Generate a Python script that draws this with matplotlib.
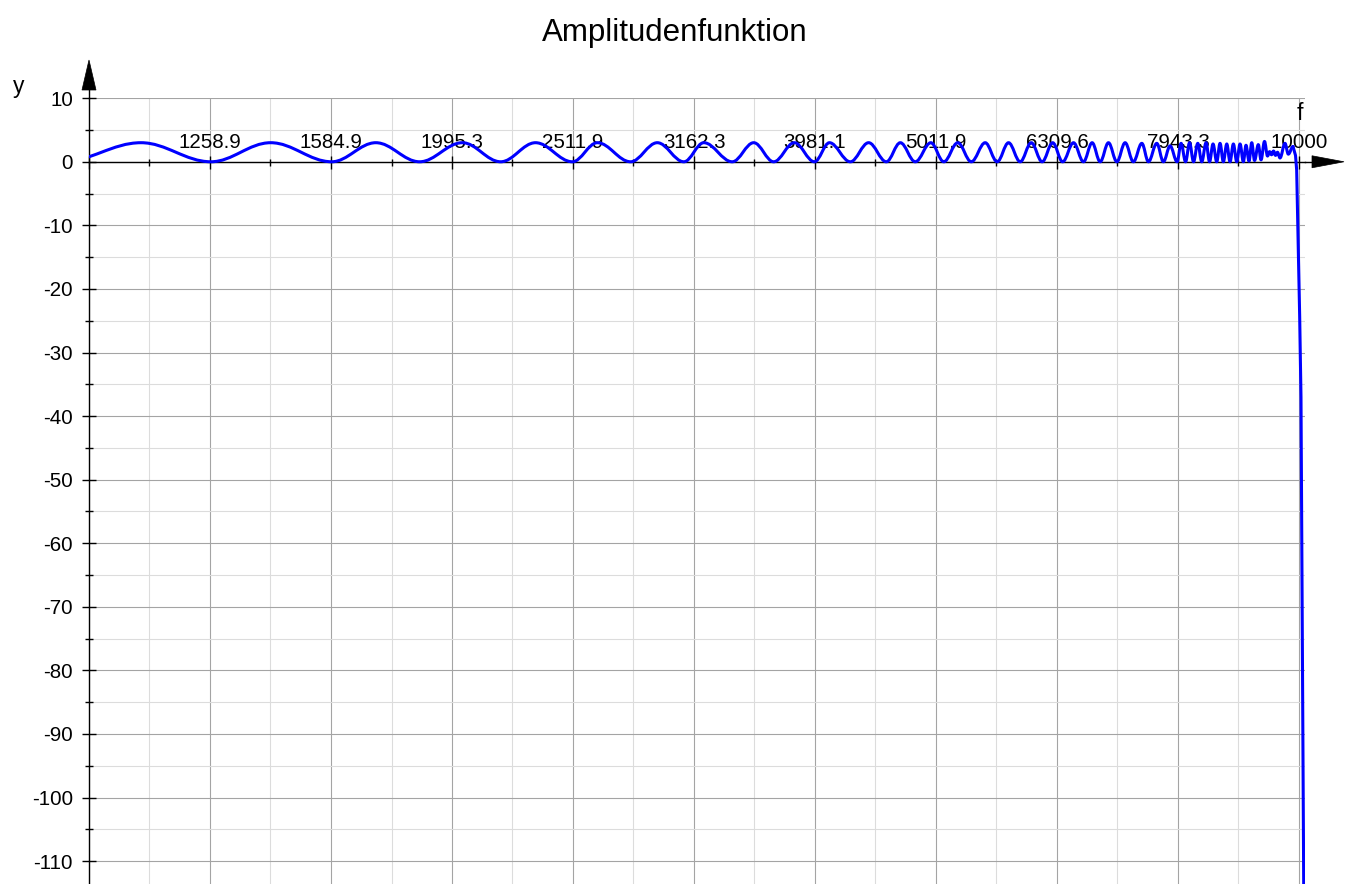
import numpy as np
import matplotlib
matplotlib.use("Agg")
import matplotlib.pyplot as plt
from matplotlib.path import Path
from matplotlib.patches import PathPatch, Polygon
from matplotlib.lines import Line2D
from matplotlib.ticker import FixedLocator, FixedFormatter, NullFormatter

plt.rcParams['font.family'] = ['Liberation Sans', 'DejaVu Sans']

# ---------------- data ----------------
title = "Amplitudenfunktion"
x_label = "f"
y_label = "y"

# extrema of the oscillating amplitude curve (frequency, value)
curve_f = [950, 1104, 1261, 1413, 1587, 1726, 1876, 2035, 2189, 2339,
           2509, 2631, 2803, 2949, 3102, 3222, 3401, 3543, 3680, 3828,
           3977, 4092, 4258, 4409, 4560, 4683, 4818, 4963, 5087, 5224,
           5360, 5504, 5631, 5754, 5883, 6008, 6134, 6258, 6378, 6511,
           6636, 6746, 6850, 6959, 7071, 7183, 7297, 7415, 7509, 7629,
           7726, 7825, 7930, 7990, 8059, 8120, 8182, 8248, 8311, 8379,
           8435, 8491, 8551, 8605, 8659, 8716, 8770, 8826, 8883, 8939,
           8995, 9041, 9093, 9140, 9189, 9255, 9303, 9365, 9419, 9455,
           9491, 9527, 9563, 9599, 9645, 9737, 9799, 9887]
curve_y = [0, 3.0, 0, 3.0, 0, 3.0, 0, 3.0, 0, 3.0,
           0, 3.0, 0, 3.0, 0, 3.0, 0, 3.0, 0, 3.0,
           0, 3.0, 0, 3.0, 0, 3.0, 0, 3.0, 0, 3.0,
           0, 3.0, 0, 3.0, 0, 3.0, 0, 3.0, 0, 3.0,
           0, 3.0, 0, 3.0, 0, 3.0, 0, 2.9, 0, 2.9,
           0, 2.5, 0, 2.9, 0, 3.0, 0, 2.9, 0, 3.0,
           0, 2.8, 0, 2.9, 0, 2.8, 0, 2.8, 0, 2.8,
           0, 2.6, 0.1, 3.0, 0.2, 2.7, 0.3, 3.2, 0.9, 1.6,
           1.1, 1.7, 1.0, 1.5, 0.6, 2.9, 1.2, 2.4]

# steep cut-off near 10 kHz
drop_f = [9887, 9934, 9956, 9987, 10013, 10038, 10090, 10105]
drop_y = [2.4, 1.0, -1.3, -13.9, -24.3, -37.0, -113.6, -125.0]

xtick_vals = [1000, 1258.9, 1584.9, 1995.3, 2511.9, 3162.3, 3981.1,
              5011.9, 6309.6, 7943.3, 10000]
xtick_labels = ["", "1258.9", "1584.9", "1995.3", "2511.9", "3162.3",
                "3981.1", "5011.9", "6309.6", "7943.3", "10000"]
xminor_vals = [1122.0, 1412.5, 1778.3, 2238.7, 2818.4, 3548.1, 4466.8,
               5623.4, 7079.5, 8912.5]
ytick_vals = [10, 0, -10, -20, -30, -40, -50, -60, -70, -80, -90, -100, -110]
ytick_labels = ["10", "0", "-10", "-20", "-30", "-40", "-50", "-60", "-70",
                "-80", "-90", "-100", "-110"]
yminor_vals = [5, -5, -15, -25, -35, -45, -55, -65, -75, -85, -95, -105]

x_min, x_max = 1000, 10115
y_min, y_max = -113.6, 10

# ---------------- figure ----------------
W, H = 1349, 884
fig = plt.figure(figsize=(W / 100, H / 100), dpi=100)
ax_left, ax_right, ax_top = 89, 1305, 98.2
ax = fig.add_axes([ax_left / W, 0, (ax_right - ax_left) / W, (H - ax_top) / H])
ax.set_xscale('log')
ax.set_xlim(x_min, x_max)
ax.set_ylim(y_min, y_max)

ax.xaxis.set_major_locator(FixedLocator(xtick_vals))
ax.xaxis.set_major_formatter(FixedFormatter(xtick_labels))
ax.xaxis.set_minor_locator(FixedLocator(xminor_vals))
ax.xaxis.set_minor_formatter(NullFormatter())
ax.yaxis.set_major_locator(FixedLocator(ytick_vals))
ax.yaxis.set_major_formatter(FixedFormatter(ytick_labels))
ax.yaxis.set_minor_locator(FixedLocator(yminor_vals))
ax.yaxis.set_minor_formatter(NullFormatter())

ax.grid(True, which='major', color='#a4a4a4', linewidth=0.8)
ax.grid(True, which='minor', color='#dcdcdc', linewidth=0.8)
ax.set_axisbelow(True)

for s in ['bottom', 'right']:
    ax.spines[s].set_visible(False)
ax.spines['top'].set_position(('data', 0))
ax.spines['top'].set_color('black')
ax.spines['top'].set_linewidth(1.0)
ax.spines['left'].set_color('black')
ax.spines['left'].set_linewidth(1.0)

ax.xaxis.set_ticks_position('top')
ax.tick_params(axis='x', which='major', direction='inout', length=13 * 0.72,
               width=1, pad=2.6, labelsize=14.8, top=True, bottom=False,
               labeltop=True, labelbottom=False)
ax.tick_params(axis='x', which='minor', direction='inout', length=7 * 0.72,
               width=1, top=True, bottom=False)
ax.tick_params(axis='y', which='major', direction='inout', length=14 * 0.72,
               width=1, pad=6.5, labelsize=14.8)
ax.tick_params(axis='y', which='minor', direction='inout', length=8 * 0.72,
               width=1)

# oscillating curve drawn as smooth segments between extrema
k = 0.364
verts = [(curve_f[0], curve_y[0])]
codes = [Path.MOVETO]
for i in range(len(curve_f) - 1):
    la, lb = np.log10(curve_f[i]), np.log10(curve_f[i + 1])
    c1 = (10 ** (la + k * (lb - la)), curve_y[i])
    c2 = (10 ** (lb - k * (lb - la)), curve_y[i + 1])
    verts += [c1, c2, (curve_f[i + 1], curve_y[i + 1])]
    codes += [Path.CURVE4] * 3
patch = PathPatch(Path(verts, codes), fill=False, edgecolor='#0000ff',
                  linewidth=2.2, joinstyle='round', capstyle='round', zorder=3)
ax.add_patch(patch)
ax.plot(drop_f, drop_y, color='#0000ff', linewidth=2.2,
        solid_joinstyle='round', solid_capstyle='round', zorder=3)

# ---------------- arrows and labels (figure pixel coords) ----------------
def P(x, y):
    return (x / W, 1 - y / H)

y0_px = ax_top + (y_max - 0) / (y_max - y_min) * (H - ax_top)
# x axis arrow
fig.add_artist(Line2D([P(ax_right, y0_px)[0], P(1313, y0_px)[0]],
                      [P(ax_right, y0_px)[1], P(1313, y0_px)[1]],
                      color='black', linewidth=1.0, transform=fig.transFigure))
fig.add_artist(Polygon([P(1312, y0_px - 6), P(1344, y0_px), P(1312, y0_px + 6)],
                       closed=True, facecolor='black', edgecolor='black',
                       linewidth=0.5, transform=fig.transFigure))
# y axis arrow
fig.add_artist(Line2D([P(ax_left, ax_top)[0], P(ax_left, 89)[0]],
                      [P(ax_left, ax_top)[1], P(ax_left, 89)[1]],
                      color='black', linewidth=1.0, transform=fig.transFigure))
fig.add_artist(Polygon([P(ax_left - 7, 90), P(ax_left, 60), P(ax_left + 7, 90)],
                       closed=True, facecolor='black', edgecolor='black',
                       linewidth=0.5, transform=fig.transFigure))

fig.text(*P(675, 40.5), title, ha='center', va='baseline', fontsize=22.5)
fig.text(*P(19, 93.5), y_label, ha='center', va='baseline', fontsize=16.5)
fig.text(*P(1300, 120), x_label, ha='center', va='baseline', fontsize=16.5)

fig.savefig('out.png', dpi=100)
